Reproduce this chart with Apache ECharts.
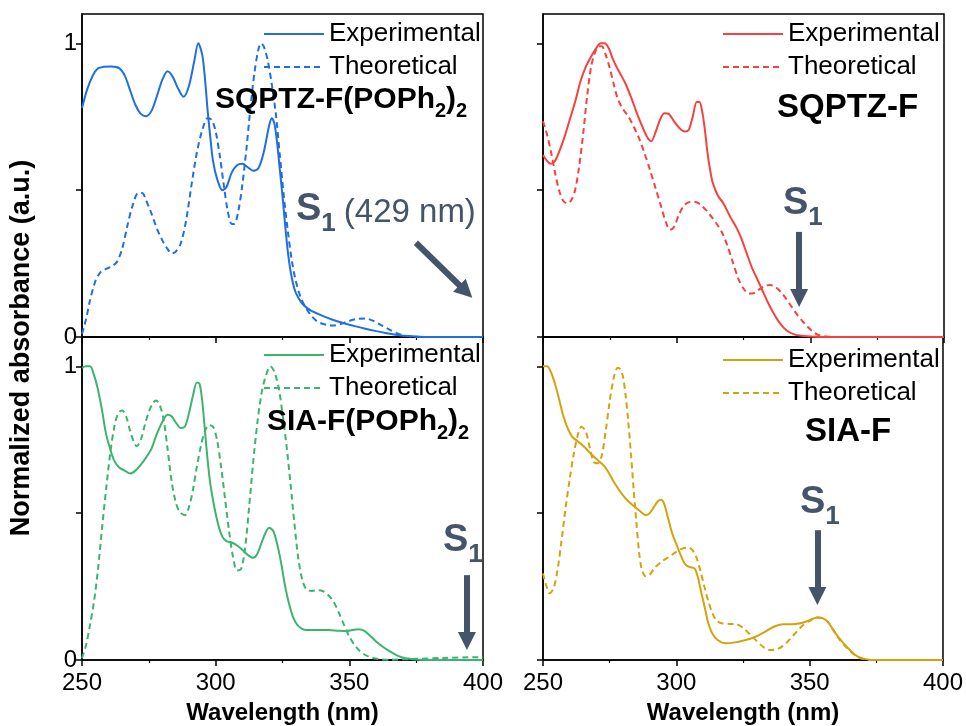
<!DOCTYPE html>
<html>
<head>
<meta charset="utf-8">
<script src="https://cdn.jsdelivr.net/npm/echarts@6/dist/echarts.min.js"></script>
<style>
  html, body { margin: 0; padding: 0; background: #fff; }
  #main { width: 966px; height: 726px; }
</style>
</head>
<body>
<div id="main"></div>
<script>
// wavelength ticks shared by all panels
var xTicks = [250, 300, 350, 400];
var yLabels = [0, 1];
var yTicks = [0, 0.5, 1];

// SQPTZ-F(POPh2)2
var sqpPoExp = [[250,0.78],[252,0.845],[254,0.89],[256,0.915],[258,0.92],[261,0.921],[264,0.915],[266,0.89],[268,0.84],[270,0.79],[272,0.76],[274,0.752],[276,0.77],[278,0.82],[280,0.875],[282,0.905],[284,0.885],[286,0.845],[288,0.818],[290,0.855],[292,0.94],[293.5,1.0],[295,0.96],[296,0.88],[297,0.77],[298,0.68],[299,0.6],[300.5,0.54],[302.5,0.5],[304,0.51],[306,0.56],[308,0.585],[310,0.59],[312,0.578],[314,0.566],[316,0.575],[318,0.63],[320,0.72],[321,0.745],[322,0.725],[323,0.66],[324,0.57],[325,0.48],[326,0.38],[327,0.29],[328,0.225],[329,0.18],[330,0.15],[332,0.118],[334,0.1],[336,0.088],[340,0.072],[344,0.058],[348,0.047],[352,0.037],[356,0.028],[360,0.02],[364,0.013],[368,0.007],[372,0.003],[376,0.001],[380,0],[400,0]];
var sqpPoTheo = [[250,0.01],[251.5,0.06],[253,0.125],[255,0.19],[257,0.222],[259,0.232],[261,0.24],[263,0.255],[265,0.3],[267,0.38],[269,0.45],[271,0.49],[272.5,0.49],[274,0.465],[276,0.42],[278,0.37],[280,0.33],[282,0.3],[283.5,0.285],[285,0.29],[287,0.32],[289,0.4],[291,0.52],[293,0.63],[295,0.705],[297,0.745],[298.5,0.74],[300,0.7],[301.5,0.62],[303,0.52],[304.5,0.43],[306,0.385],[307,0.385],[308.5,0.43],[310,0.52],[311.5,0.64],[313,0.78],[314.5,0.9],[316,0.98],[317,1.0],[318,0.99],[319.5,0.94],[321,0.86],[322.5,0.76],[324,0.62],[325.5,0.48],[327,0.36],[328.5,0.26],[330,0.19],[332,0.13],[334,0.095],[336,0.07],[338,0.053],[340,0.045],[342,0.04],[344,0.039],[347,0.045],[350,0.055],[353,0.062],[356,0.063],[359,0.055],[362,0.04],[365,0.025],[368,0.012],[371,0.004],[375,0.001],[380,0],[400,0]];

// SQPTZ-F
var sqpExp = [[250,0.62],[251.5,0.6],[253,0.59],[254.5,0.6],[256,0.63],[258,0.68],[260,0.74],[262,0.8],[264,0.87],[266,0.92],[268,0.955],[270,0.985],[271.5,1.0],[273,1.0],[274.5,0.985],[276,0.95],[277.5,0.92],[279,0.895],[281,0.86],[283,0.815],[285,0.765],[287,0.72],[289,0.68],[290.5,0.667],[292,0.695],[294,0.745],[295.5,0.762],[297,0.76],[299,0.735],[301,0.712],[303,0.7],[304.5,0.705],[306,0.75],[307.5,0.8],[308.5,0.8],[309.5,0.77],[310.5,0.71],[311.5,0.63],[312.5,0.57],[313.5,0.525],[315.5,0.48],[317.5,0.455],[320,0.41],[322.5,0.37],[324,0.34],[326,0.29],[328,0.24],[330,0.2],[332,0.16],[334,0.12],[336,0.085],[338,0.055],[340,0.032],[342,0.017],[344,0.009],[346,0.005],[350,0.002],[355,0],[400,0]];
var sqpTheo = [[250,0.735],[251.5,0.69],[253,0.63],[254.5,0.56],[256,0.5],[257.5,0.465],[259,0.455],[260.5,0.465],[262,0.5],[263.5,0.58],[265,0.69],[266.5,0.82],[268,0.92],[269.5,0.97],[271,0.99],[272,0.99],[273.5,0.96],[275,0.915],[276.5,0.86],[278,0.81],[280,0.775],[282,0.75],[284,0.715],[286,0.675],[288,0.625],[290,0.57],[292,0.51],[294,0.45],[296,0.39],[297.5,0.365],[299,0.375],[301,0.42],[303,0.45],[305,0.46],[307,0.46],[309,0.45],[311,0.432],[313,0.41],[315,0.385],[317,0.355],[319,0.31],[321,0.255],[323,0.2],[325,0.165],[327,0.148],[329,0.15],[331,0.163],[333,0.174],[335,0.177],[337,0.17],[339,0.153],[341,0.13],[343,0.103],[345,0.077],[347,0.055],[349,0.035],[351,0.018],[353,0.007],[356,0.002],[360,0],[400,0]];

// SIA-F(POPh2)2
var siaPoExp = [[250,0.995],[251.5,1.0],[253,1.0],[254.5,0.97],[256,0.92],[257.5,0.85],[259,0.77],[260.5,0.72],[262,0.68],[264,0.655],[266,0.645],[268,0.635],[270,0.645],[272,0.665],[274,0.69],[276,0.72],[278,0.77],[280,0.81],[282,0.835],[283.5,0.83],[285,0.81],[287,0.79],[288.5,0.795],[290,0.84],[291.5,0.9],[293,0.945],[294,0.94],[295,0.88],[296,0.78],[297,0.68],[298,0.6],[299.5,0.52],[301,0.46],[302.5,0.42],[304,0.405],[306,0.4],[308,0.39],[310,0.375],[312,0.358],[314,0.348],[315.5,0.36],[317,0.395],[318.5,0.43],[320,0.45],[321.5,0.44],[323,0.395],[324.5,0.33],[326,0.25],[327.5,0.19],[329,0.145],[330.5,0.12],[332,0.108],[334,0.102],[338,0.102],[342,0.102],[346,0.1],[349,0.099],[351,0.102],[353.5,0.105],[355.5,0.1],[357.5,0.085],[360,0.063],[362.5,0.045],[365,0.03],[368,0.015],[371,0.006],[375,0.002],[380,0],[400,0]];
var siaPoTheo = [[250,0.006],[251.5,0.05],[253,0.12],[254.5,0.2],[256,0.31],[257.5,0.45],[259,0.58],[260.5,0.7],[262,0.79],[263.5,0.84],[265,0.85],[266.5,0.83],[268,0.78],[269.5,0.74],[270.5,0.728],[272,0.75],[273.5,0.8],[275,0.845],[276.5,0.875],[277.7,0.884],[279,0.87],[280.5,0.82],[282,0.72],[283.5,0.61],[285,0.54],[286.5,0.505],[288.5,0.493],[290,0.52],[291.5,0.58],[293,0.66],[294.5,0.73],[296,0.78],[297.5,0.8],[299,0.795],[300.5,0.75],[302,0.66],[303.5,0.55],[305,0.44],[306.5,0.35],[308,0.305],[309.5,0.31],[311,0.38],[312.5,0.52],[314,0.67],[315.5,0.8],[317,0.9],[318.5,0.96],[320.5,1.0],[322,0.98],[323.5,0.93],[325,0.84],[326.5,0.73],[328,0.6],[329.5,0.46],[331,0.34],[332.5,0.27],[334,0.24],[336,0.235],[338,0.238],[340,0.235],[342,0.222],[344,0.2],[346,0.163],[348,0.12],[350,0.08],[352,0.05],[354,0.03],[356,0.017],[358,0.009],[361,0.003],[365,0.001],[375,0.004],[385,0.007],[400,0.01]];

// SIA-F
var siaExp = [[250,1.0],[251.5,1.0],[253,0.98],[254.5,0.94],[256,0.89],[257.5,0.835],[259,0.795],[261,0.76],[263,0.745],[265,0.73],[267,0.712],[269,0.693],[271,0.677],[273,0.66],[275,0.632],[277,0.6],[279,0.573],[281,0.55],[283,0.532],[285,0.517],[287,0.502],[288.7,0.493],[290,0.5],[291.5,0.52],[293,0.54],[294.3,0.546],[295.5,0.53],[297,0.48],[298.5,0.43],[300,0.395],[301.5,0.36],[303,0.33],[304.5,0.318],[306,0.315],[307,0.31],[308,0.285],[309,0.245],[310,0.205],[311,0.165],[312,0.125],[313.5,0.09],[315.5,0.068],[318.5,0.057],[322,0.06],[325,0.066],[328,0.073],[331,0.085],[334,0.1],[337,0.115],[340,0.122],[343,0.122],[346,0.124],[349,0.132],[351,0.14],[353,0.145],[355,0.142],[357,0.128],[359,0.1],[361,0.075],[363,0.054],[365,0.035],[367,0.018],[369,0.008],[371,0.003],[375,0],[400,0]];
var siaTheo = [[250,0.295],[251,0.26],[252.5,0.227],[254,0.245],[255.5,0.31],[257,0.41],[258.5,0.52],[260,0.615],[261.5,0.7],[263,0.765],[264.4,0.794],[266,0.78],[267.5,0.725],[269,0.675],[270.5,0.67],[272,0.695],[273.5,0.78],[275,0.88],[276.5,0.96],[278,0.995],[279,0.99],[280,0.965],[281,0.9],[282,0.81],[283,0.7],[284,0.58],[285,0.47],[286,0.37],[287,0.31],[288.5,0.285],[290,0.29],[292,0.315],[294.5,0.335],[297,0.35],[300,0.368],[302.5,0.38],[304.5,0.383],[306,0.375],[307.5,0.35],[309,0.305],[310.5,0.25],[312,0.2],[313.5,0.16],[315,0.135],[317,0.125],[320,0.123],[322.5,0.122],[325,0.11],[327.5,0.088],[330,0.066],[332.5,0.045],[335,0.034],[337.5,0.036],[340,0.048],[342.5,0.07],[345,0.095],[347.5,0.118],[350,0.133],[353,0.145],[355,0.142],[357,0.128],[359,0.1],[361,0.072],[363,0.05],[365,0.032],[367,0.016],[369,0.006],[372,0.001],[376,0],[400,0]];

// S1 arrows, [from, to] in data coordinates of each panel
var arrowTL = [[374.9, 0.321], [393.6, 0.155]];
var arrowTR = [[345.8, 0.358], [345.8, 0.133]];
var arrowBL = [[394.0, 0.289], [394.0, 0.065]];
var arrowBR = [[352.9, 0.442], [352.9, 0.218]];

var FONT = 'Liberation Sans, Arial, sans-serif';
var SLATE = '#44546a';

var panels = [
  { key: 'a', color: '#1f6fe0', exp: sqpPoExp, theo: sqpPoTheo, arrow: arrowTL, legend: { left: 263, top: 21 } },
  { key: 'b', color: '#f5423f', exp: sqpExp, theo: sqpTheo, arrow: arrowTR, legend: { left: 722, top: 21 } },
  { key: 'c', color: '#3cb46e', exp: siaPoExp, theo: siaPoTheo, arrow: arrowBL, legend: { left: 263, top: 342 } },
  { key: 'd', color: '#d4a20f', exp: siaExp, theo: siaTheo, arrow: arrowBR, legend: { left: 722, top: 347 } }
];

var grids = [
  { left: 82, top: 14, width: 401, height: 323 },
  { left: 543, top: 14, width: 401, height: 323 },
  { left: 82, top: 337, width: 401, height: 323 },
  { left: 543, top: 337, width: 401, height: 323 }
];

var chart = echarts.init(document.getElementById('main'), null, { renderer: 'canvas' });

var xAxes = [], yAxes = [], series = [], legends = [];
panels.forEach(function (p, i) {
  var bottom = i >= 2, left = i % 2 === 0;
  xAxes.push({
    type: 'value', gridIndex: i, min: 250, max: 400, interval: 50,
    axisLine: { lineStyle: { color: '#000', width: 1.5 } },
    axisTick: { length: 6, lineStyle: { color: '#000', width: 1.5 } },
    minorTick: { show: true, splitNumber: 2, length: 3, lineStyle: { color: '#000', width: 1.2 } },
    splitLine: { show: false },
    axisLabel: { show: bottom, fontSize: 24, margin: 11, color: '#000', fontFamily: FONT, customValues: xTicks },
    name: bottom ? 'Wavelength (nm)' : '',
    nameLocation: 'middle', nameGap: 41,
    nameTextStyle: { fontSize: 24, fontWeight: 'bold', color: '#000', fontFamily: FONT }
  });
  yAxes.push({
    type: 'value', gridIndex: i, min: 0, max: 1.1, interval: 0.5,
    axisLine: { show: true, lineStyle: { color: '#000', width: 1.5 } },
    axisTick: { show: true, length: 6, customValues: yTicks, lineStyle: { color: '#000', width: 1.5 } },
    splitLine: { show: false },
    axisLabel: { show: left, fontSize: 24, margin: 5, color: '#000', fontFamily: FONT, customValues: yLabels }
  });
  series.push({
    name: p.key + '|Experimental', type: 'line', xAxisIndex: i, yAxisIndex: i,
    data: p.exp, smooth: 0.3, showSymbol: false, symbol: 'none',
    color: p.color, lineStyle: { color: p.color, width: 2 }, animation: false
  });
  series.push({
    name: p.key + '|Theoretical', type: 'line', xAxisIndex: i, yAxisIndex: i,
    data: p.theo, smooth: 0.3, showSymbol: false, symbol: 'none',
    color: p.color, lineStyle: { color: p.color, width: 2, type: [6, 4] }, animation: false,
    markLine: {
      silent: true, animation: false,
      symbol: ['none', 'triangle'], symbolSize: [18, 18],
      lineStyle: { color: SLATE, width: 6, type: 'solid' },
      itemStyle: { color: SLATE },
      label: { show: false },
      emphasis: { disabled: true },
      data: [[{ coord: p.arrow[0] }, { coord: p.arrow[1] }]]
    }
  });
  legends.push({
    data: [p.key + '|Experimental', p.key + '|Theoretical'],
    left: p.legend.left, top: p.legend.top, orient: 'vertical', padding: 0,
    itemWidth: 60, itemHeight: 14, itemGap: 7, selectedMode: false,
    itemStyle: { opacity: 0 },
    lineStyle: { width: 2 },
    textStyle: { fontSize: 26, lineHeight: 24, color: '#000', fontFamily: FONT },
    formatter: function (n) { return n.split('|')[1]; }
  });
});

var compRich = {
  b: { fontSize: 30, fontWeight: 'bold', lineHeight: 32, verticalAlign: 'top', fontFamily: FONT, fill: '#000' },
  s: { fontSize: 20, fontWeight: 'bold', lineHeight: 20, padding: [16, 0, 0, 0], verticalAlign: 'top', fontFamily: FONT, fill: '#000' },
  B: { fontSize: 33, fontWeight: 'bold', lineHeight: 34, verticalAlign: 'top', fontFamily: FONT, fill: '#000' }
};
var s1Rich = {
  S: { fontSize: 38, fontWeight: 'bold', lineHeight: 40, verticalAlign: 'top', fontFamily: FONT, fill: SLATE },
  one: { fontSize: 26, fontWeight: 'bold', lineHeight: 26, padding: [20, 0, 0, 0], verticalAlign: 'top', fontFamily: FONT, fill: SLATE },
  n: { fontSize: 33, lineHeight: 33, padding: [5, 0, 0, 8], verticalAlign: 'top', fontFamily: FONT, fill: SLATE }
};

function richText(x, y, text, rich) {
  return { type: 'text', x: x, y: y, z: 100, silent: true,
    style: { text: text, rich: rich, align: 'left', verticalAlign: 'top' } };
}

var graphics = [
  { type: 'text', x: 22, y: 348, rotation: Math.PI / 2, silent: true,
    style: { text: 'Normalized absorbance (a.u.)', fontSize: 27, fontWeight: 'bold', fontFamily: FONT,
      fill: '#000', align: 'center', verticalAlign: 'middle' } },
  richText(215, 85, '{b|SQPTZ-F(POPh}{s|2}{b|)}{s|2}', compRich),
  richText(777, 91, '{B|SQPTZ-F}', compRich),
  richText(267, 407, '{b|SIA-F(POPh}{s|2}{b|)}{s|2}', compRich),
  richText(805, 415, '{B|SIA-F}', compRich),
  richText(296, 191, '{S|S}{one|1}{n|(429 nm)}', s1Rich),
  richText(783, 185, '{S|S}{one|1}', s1Rich),
  richText(443, 522, '{S|S}{one|1}', s1Rich),
  richText(800, 484, '{S|S}{one|1}', s1Rich)
];

chart.setOption({
  animation: false,
  backgroundColor: '#fff',
  textStyle: { fontFamily: FONT },
  grid: grids.map(function (g) {
    return Object.assign({ show: true, borderColor: '#000', borderWidth: 1.5, backgroundColor: 'transparent' }, g);
  }),
  xAxis: xAxes,
  yAxis: yAxes,
  legend: legends,
  series: series,
  graphic: graphics
});
</script>
</body>
</html>
